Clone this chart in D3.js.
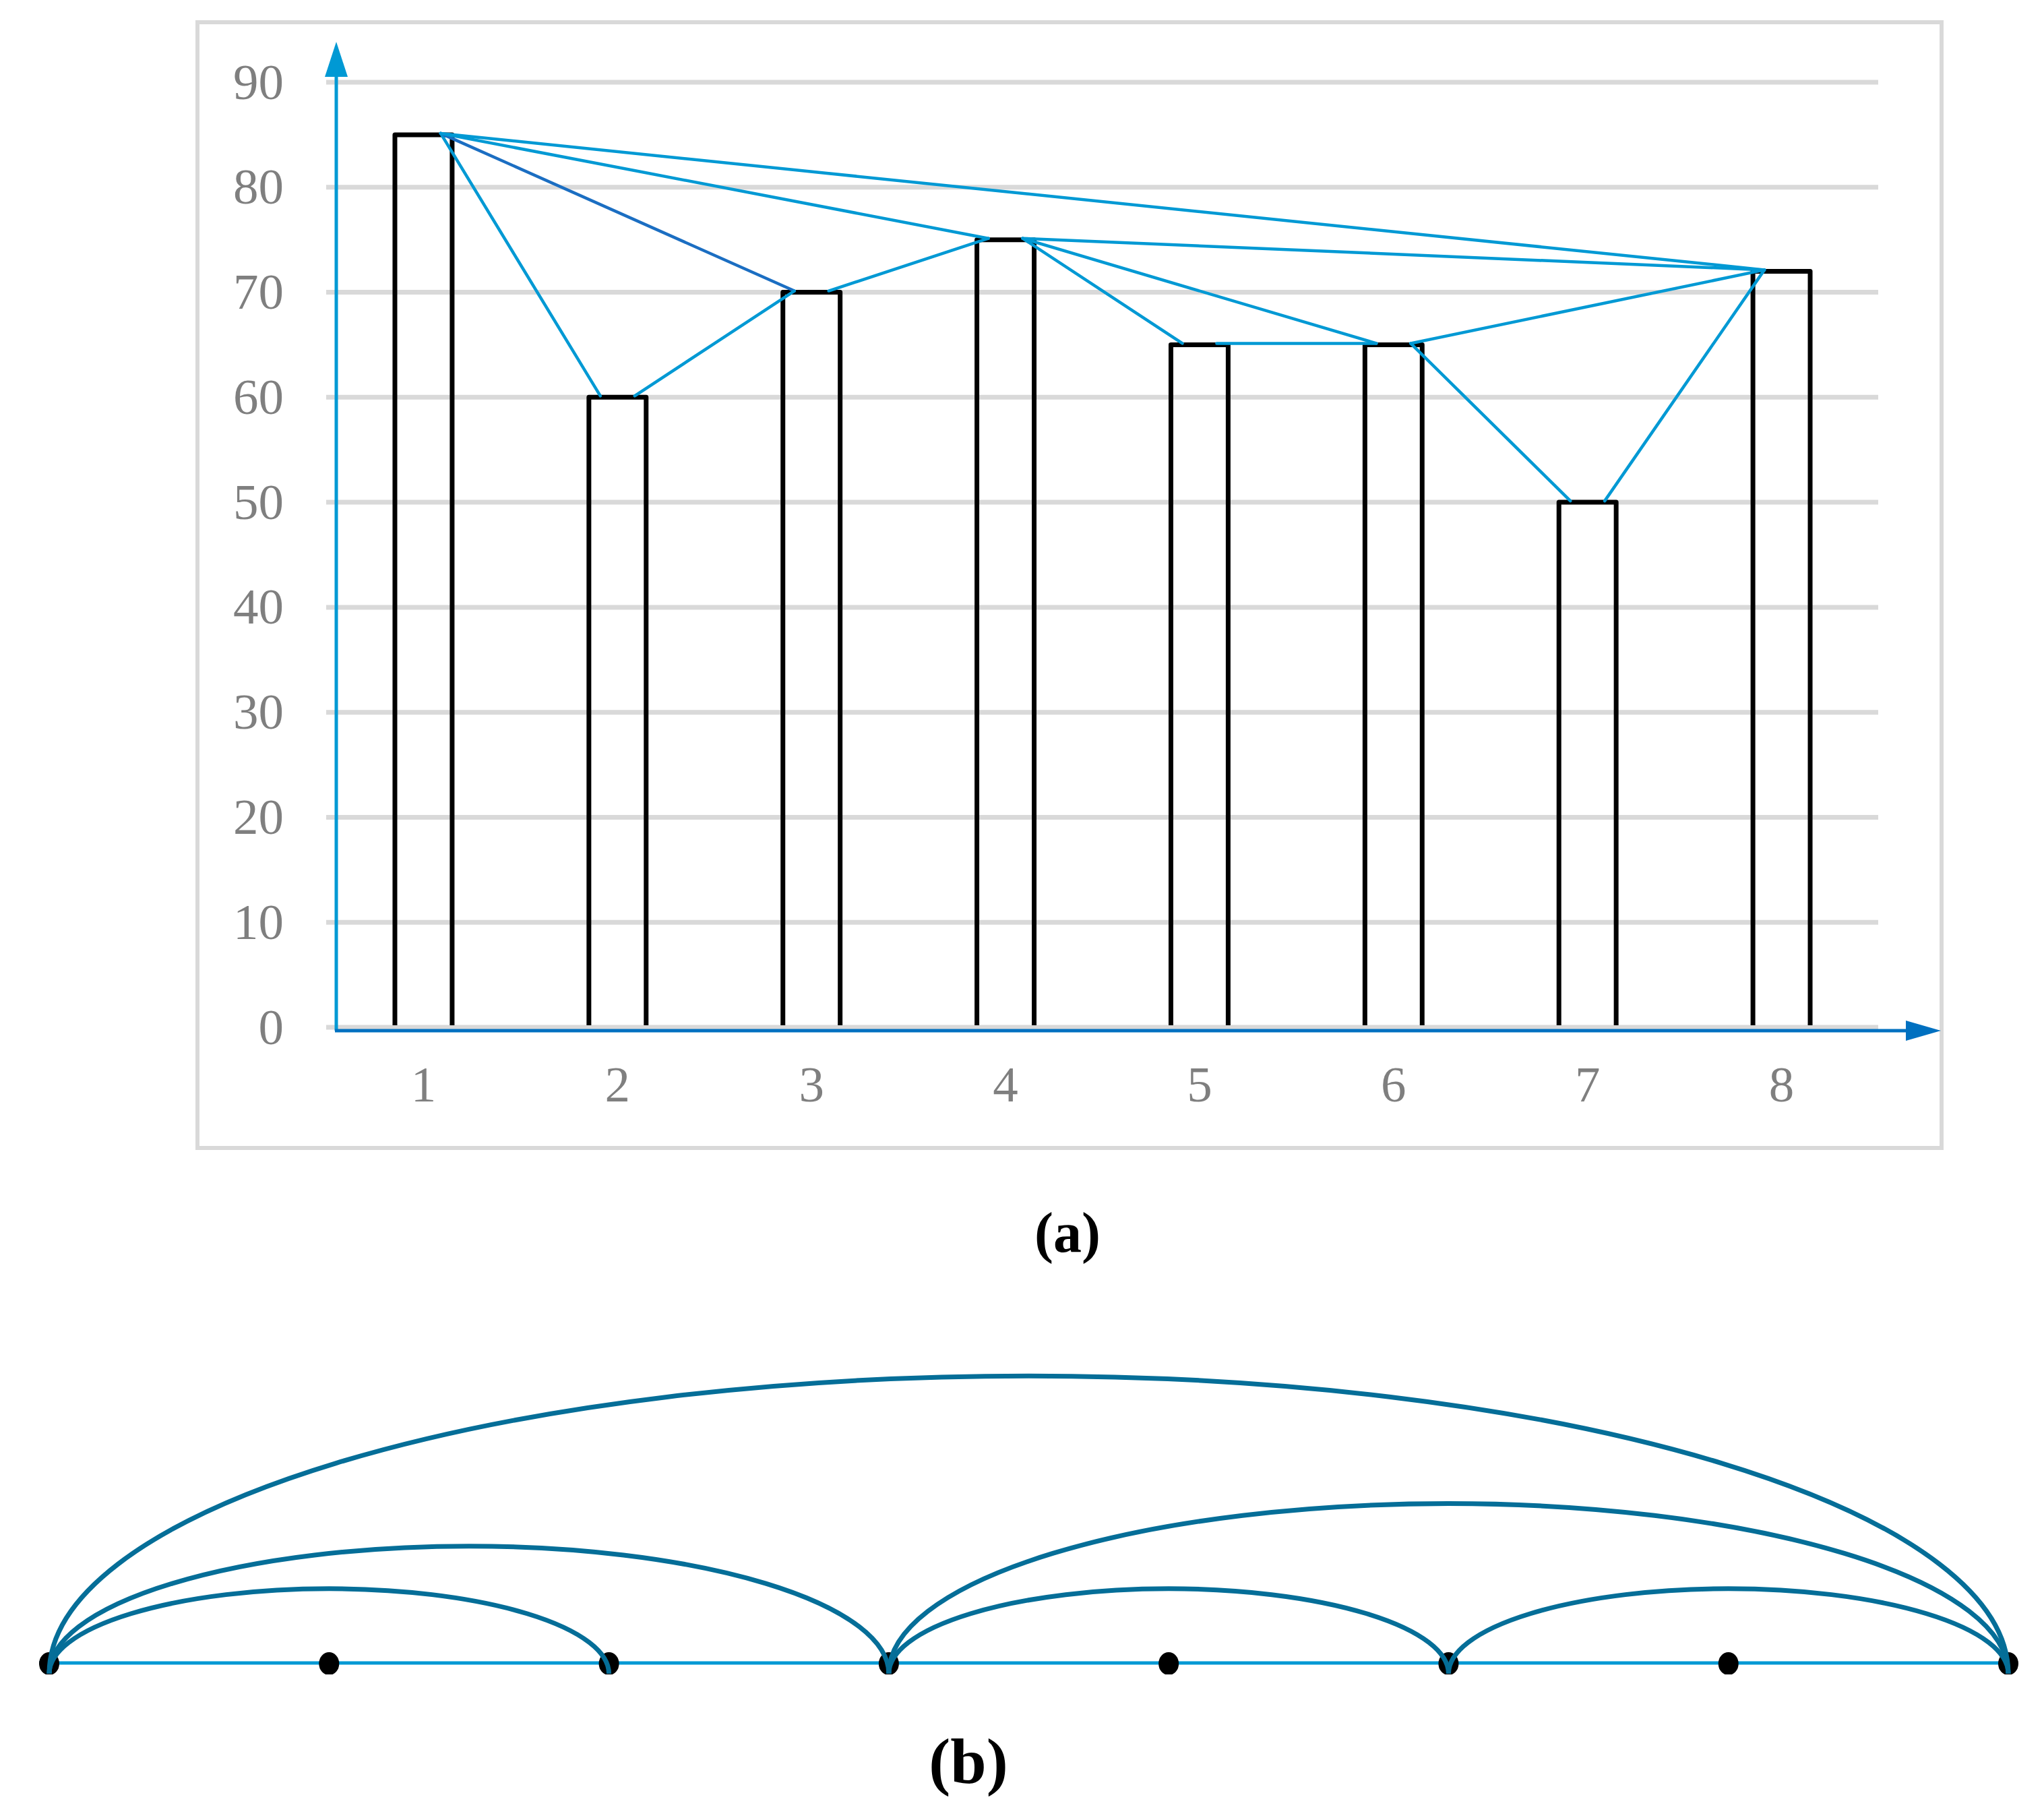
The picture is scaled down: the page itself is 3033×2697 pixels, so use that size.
<!DOCTYPE html>
<html>
<head>
<meta charset="utf-8">
<script src="https://cdn.jsdelivr.net/npm/d3@7"></script>
<style>
  html, body { margin: 0; padding: 0; background: #ffffff; }
  svg { display: block; }
</style>
</head>
<body>
<script>
// ---------------- data ----------------
const categories = [1, 2, 3, 4, 5, 6, 7, 8];
const values = [85, 60, 70, 75, 65, 65, 50, 72];
const yTicks = [0, 10, 20, 30, 40, 50, 60, 70, 80, 90];
const xTickLabels = ["1", "2", "3", "4", "5", "6", "7", "8"];
// visibility-graph edges (source, target) between categories
const edgeSources = [1, 1, 1, 1, 2, 3, 4, 4, 4, 5, 6, 6, 7];
const edgeTargets = [2, 3, 4, 8, 3, 4, 5, 6, 8, 6, 7, 8, 8];
const panelLabels = ["(a)", "(b)"];

// ---------------- drawing ----------------
const W = 3033, H = 2697;
const svg = d3.select("body").append("svg").attr("width", W).attr("height", H);
svg.append("rect").attr("width", W).attr("height", H).attr("fill", "#ffffff");

const serif = "'Liberation Serif', 'Times New Roman', serif";
const light = "#0099d4", dark = "#1b6ec2", axisDark = "#0070c0", grid = "#d9d9d9";

const edges = edgeSources.map((s, i) => ({ s: s, t: edgeTargets[i] }));
const valueOf = c => values[categories.indexOf(c)];

// ---- panel (a) ----
const x = d3.scaleBand().domain(categories).range([484.5, 2787.5])
  .paddingInner(0.705).paddingOuter(0.3525);
const y = d3.scaleLinear().domain([0, 90]).range([1524, 122]);

// frame
svg.append("rect").attr("x", 293).attr("y", 33).attr("width", 2588).attr("height", 1670)
  .attr("fill", "none").attr("stroke", grid).attr("stroke-width", 6);

// gridlines
svg.append("g").selectAll("line").data(yTicks).join("line")
  .attr("x1", 484).attr("x2", 2787)
  .attr("y1", d => y(d)).attr("y2", d => y(d))
  .attr("stroke", grid).attr("stroke-width", 7);

// bars (open at the bottom)
svg.append("g").selectAll("path").data(categories).join("path")
  .attr("d", c => {
    const x0 = x(c), x1 = x(c) + x.bandwidth();
    const b = y(0) - 3, t = y(valueOf(c));
    return `M${x0},${b}V${t}H${x1}V${b}`;
  })
  .attr("fill", "none").attr("stroke", "#000").attr("stroke-width", 7)
  .attr("stroke-linejoin", "round");

// visibility lines
const cx = c => x(c) + x.bandwidth() / 2;
const off = x.bandwidth() * 0.3;
svg.append("g").selectAll("line").data(edges).join("line")
  .attr("x1", d => cx(d.s) + off).attr("y1", d => y(valueOf(d.s)) - 2)
  .attr("x2", d => cx(d.t) - off).attr("y2", d => y(valueOf(d.t)) - 2)
  .attr("stroke", d => (d.s === 1 && d.t === 3) ? dark : light)
  .attr("stroke-width", 4.5).attr("stroke-linecap", "round");

// y axis line + arrow
const yAxisX = 499;
svg.append("line").attr("x1", yAxisX).attr("x2", yAxisX).attr("y1", 1529).attr("y2", 110)
  .attr("stroke", light).attr("stroke-width", 5);
svg.append("path").attr("d", `M${yAxisX},62L${yAxisX - 17},114L${yAxisX + 17},114Z`).attr("fill", light);

// x axis line + arrow
svg.append("line").attr("x1", yAxisX - 2).attr("x2", 2832).attr("y1", 1529).attr("y2", 1529)
  .attr("stroke", axisDark).attr("stroke-width", 5);
svg.append("path").attr("d", `M2880,1529L2828,1514L2828,1544Z`).attr("fill", axisDark);

// tick labels via D3 axes
const yAxisG = svg.append("g").attr("transform", "translate(421,0)")
  .call(d3.axisLeft(y).tickValues(yTicks).tickSize(0).tickPadding(0).tickFormat(d3.format("d")));
yAxisG.select(".domain").remove();
yAxisG.selectAll("text").attr("font-family", serif).attr("font-size", 75).attr("fill", "#7f7f7f");

const xAxisG = svg.append("g").attr("transform", "translate(0,1581)")
  .call(d3.axisBottom(x).tickSize(0).tickPadding(0).tickFormat((d, i) => xTickLabels[i]));
xAxisG.select(".domain").remove();
xAxisG.selectAll("text").attr("font-family", serif).attr("font-size", 75).attr("fill", "#7f7f7f");

// panel label (a)
svg.append("text").attr("x", 1584).attr("y", 1857).attr("text-anchor", "middle")
  .attr("font-family", serif).attr("font-weight", "bold").attr("font-size", 84)
  .text(panelLabels[0]);

// ---- panel (b) ----
const nx = d3.scalePoint().domain(categories).range([73, 2980]);
const lineY = 2467, arcBase = 2483;

const defs = svg.append("defs");
defs.append("clipPath").attr("id", "clipB").append("rect")
  .attr("x", 0).attr("y", 1950).attr("width", W).attr("height", arcBase + 1 - 1950);

const gB = svg.append("g").attr("clip-path", "url(#clipB)");
gB.append("line").attr("x1", nx(1) - 15).attr("x2", nx(8)).attr("y1", lineY).attr("y2", lineY)
  .attr("stroke", light).attr("stroke-width", 5);

gB.selectAll("ellipse").data(categories).join("ellipse")
  .attr("cx", c => nx(c)).attr("cy", lineY + 1).attr("rx", 15).attr("ry", 17)
  .attr("fill", "#000");

gB.selectAll("path.arc").data(edges.filter(e => e.t - e.s > 1)).join("path")
  .attr("class", "arc")
  .attr("d", e => {
    const x1 = nx(e.s), x2 = nx(e.t);
    const rx = (x2 - x1) / 2, ry = (x2 - x1) * 0.152;
    return `M${x1},${arcBase}A${rx},${ry} 0 0 1 ${x2},${arcBase}`;
  })
  .attr("fill", "none").attr("stroke", "#056e98").attr("stroke-width", 7);

// panel label (b)
svg.append("text").attr("x", 1437).attr("y", 2645).attr("text-anchor", "middle")
  .attr("font-family", serif).attr("font-weight", "bold").attr("font-size", 96)
  .text(panelLabels[1]);
</script>
</body>
</html>
